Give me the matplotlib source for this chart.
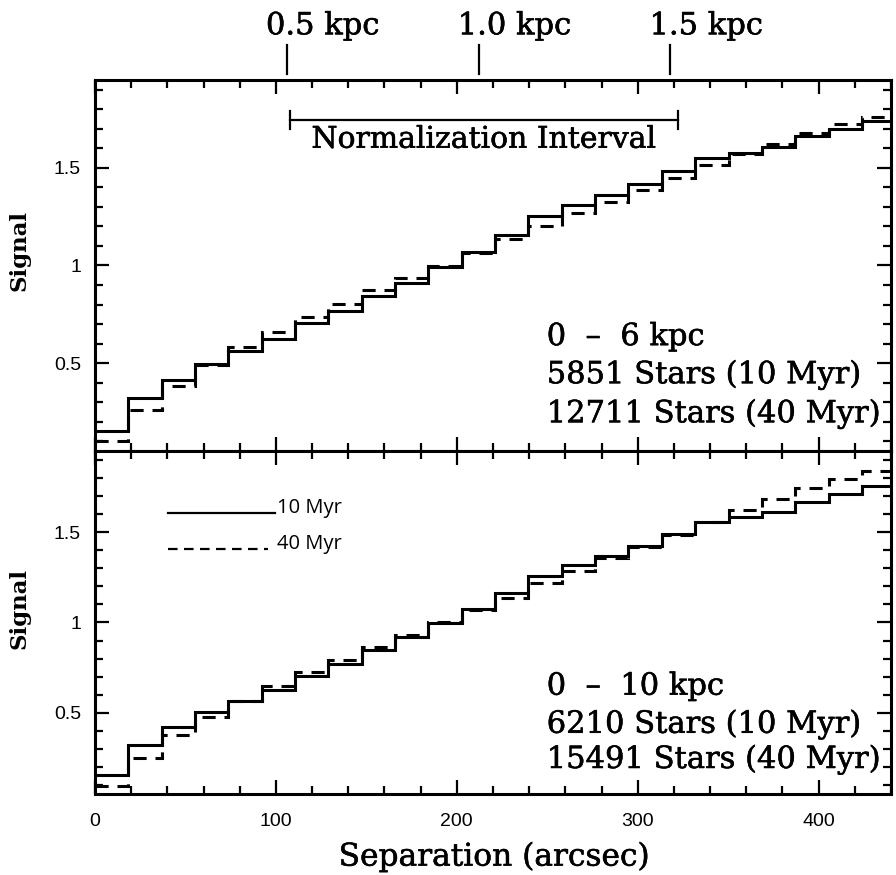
import matplotlib
matplotlib.use('Agg')
import matplotlib.pyplot as plt
import matplotlib.transforms as mtransforms
import matplotlib.patheffects as pe

plt.rcParams.update({
    'font.family': 'Liberation Sans',
    'font.size': 14,
})

# bin edges of the separation histograms (arcsec)
edges = [0, 18.4, 36.9, 55.3, 73.7, 92.1, 110.6, 129.0, 147.4, 165.9, 184.3,
         202.7, 221.2, 239.6, 258.0, 276.4, 294.9, 313.3, 331.7, 350.2, 368.6,
         387.0, 405.5, 423.9, 442.3]

# 0 - 6 kpc
top_10myr = [0.153, 0.319, 0.413, 0.495, 0.562, 0.623, 0.704, 0.768, 0.844, 0.912,
             0.991, 1.071, 1.156, 1.254, 1.309, 1.363, 1.418, 1.486, 1.548, 1.578,
             1.606, 1.661, 1.700, 1.738]
top_40myr = [0.100, 0.259, 0.384, 0.488, 0.580, 0.657, 0.736, 0.801, 0.873, 0.938,
             0.997, 1.063, 1.134, 1.203, 1.268, 1.326, 1.387, 1.447, 1.514, 1.570,
             1.623, 1.681, 1.724, 1.758]
# 0 - 10 kpc
bot_10myr = [0.156, 0.322, 0.420, 0.502, 0.563, 0.628, 0.706, 0.771, 0.850, 0.917,
             0.996, 1.076, 1.161, 1.257, 1.317, 1.368, 1.424, 1.489, 1.557, 1.585,
             1.613, 1.665, 1.711, 1.754]
bot_40myr = [0.096, 0.248, 0.374, 0.476, 0.567, 0.646, 0.726, 0.794, 0.865, 0.933,
             1.002, 1.068, 1.137, 1.217, 1.285, 1.356, 1.418, 1.485, 1.557, 1.624,
             1.682, 1.743, 1.794, 1.841]

top_text = ['0  \u2013  6 kpc', '5851 Stars (10 Myr)', '12711 Stars (40 Myr)']
bot_text = ['0  \u2013  10 kpc', '6210 Stars (10 Myr)', '15491 Stars (40 Myr)']

kpc_labels = ['0.5 kpc', '1.0 kpc', '1.5 kpc']
kpc_pos = [106, 212, 318]        # arcsec
norm_interval = [108, 322]        # arcsec

serif = 'DejaVu Serif'
DASH = (0, (4.3, 2.9))
thick = [pe.withStroke(linewidth=0.4, foreground='black')]  # slightly heavier strokes

fig = plt.figure(figsize=(8.96, 8.75), dpi=100)
ax1 = fig.add_axes([0.106, 0.4846, 0.8884, 0.424])
ax2 = fig.add_axes([0.106, 0.0926, 0.8884, 0.392])


def style(ax):
    ax.set_xlim(0, 440)
    ax.set_ylim(0.05, 1.95)
    ax.set_xticks([0, 100, 200, 300, 400])
    ax.set_xticks(range(0, 441, 20), minor=True)
    ax.set_yticks([0.5, 1, 1.5])
    ax.set_yticks([x / 10 for x in range(1, 20)], minor=True)
    ax.yaxis.set_major_formatter(plt.FuncFormatter(lambda v, p: '%g' % v))
    ax.tick_params(which='both', direction='in', top=True, right=True, width=1.6,
                   labelsize=14)
    ax.tick_params(which='major', length=10)
    ax.tick_params(which='minor', length=5.5)
    ax.tick_params(axis='y', pad=10)
    ax.tick_params(axis='x', pad=14)
    for s in ax.spines.values():
        s.set_linewidth(2.2)
        s.set_zorder(5)


for ax, v10, v40 in [(ax1, top_10myr, top_40myr), (ax2, bot_10myr, bot_40myr)]:
    style(ax)
    ax.stairs(v10, edges, baseline=None, color='black', lw=2.2)
    ax.stairs(v40, edges, baseline=None, color='black', lw=2.2, linestyle=DASH)

ax1.tick_params(labelbottom=False)

# stats text
for ax, txt, ys in [(ax1, top_text, [0.592, 0.397, 0.197]),
                    (ax2, bot_text, [0.600, 0.389, 0.194])]:
    for t, y in zip(txt, ys):
        ax.text(249.7, y, t, family=serif, fontsize=22, va='baseline', ha='left',
                clip_on=True, path_effects=thick)

# normalization interval bar
ax1.plot(norm_interval, [1.746, 1.746], color='black', lw=1.6)
for xe in norm_interval:
    ax1.plot([xe, xe], [1.70, 1.792], color='black', lw=1.6)
ax1.text(sum(norm_interval) / 2, 1.603, 'Normalization Interval', family=serif,
         fontsize=21.5, ha='center', va='baseline', path_effects=thick)

# kpc markers on top
trans = mtransforms.blended_transform_factory(ax1.transData, ax1.transAxes)
for lab, xk in zip(kpc_labels, kpc_pos):
    ax1.plot([xk, xk], [1.016, 1.094], color='black', lw=1.6, transform=trans,
             clip_on=False)
    ax1.text(xk - 11.5, 1.146, lab, family=serif, fontsize=22, ha='left',
             va='center', transform=trans, path_effects=thick)

# legend in lower panel
ax2.plot([40.3, 99.4], [1.606, 1.606], color='black', lw=1.6)
ax2.plot([40.3, 95.5], [1.406, 1.406], color='black', lw=1.6, linestyle=DASH)
ax2.text(100.5, 1.606, '10 Myr', family='Open Sans', fontsize=14.5, va='baseline')
ax2.text(100.5, 1.406, '40 Myr', family='Open Sans', fontsize=14.5, va='baseline')

for yc in [250, 608]:
    fig.text(0.022, 1 - yc / 875, 'Signal', family=serif, fontsize=16.5,
             fontweight='bold', rotation=90, ha='center', va='center')
fig.text(0.551, 1 - 857 / 875, 'Separation (arcsec)', family=serif, fontsize=22.5,
         ha='center', va='center', path_effects=thick)

fig.savefig('out.png', dpi=100)
